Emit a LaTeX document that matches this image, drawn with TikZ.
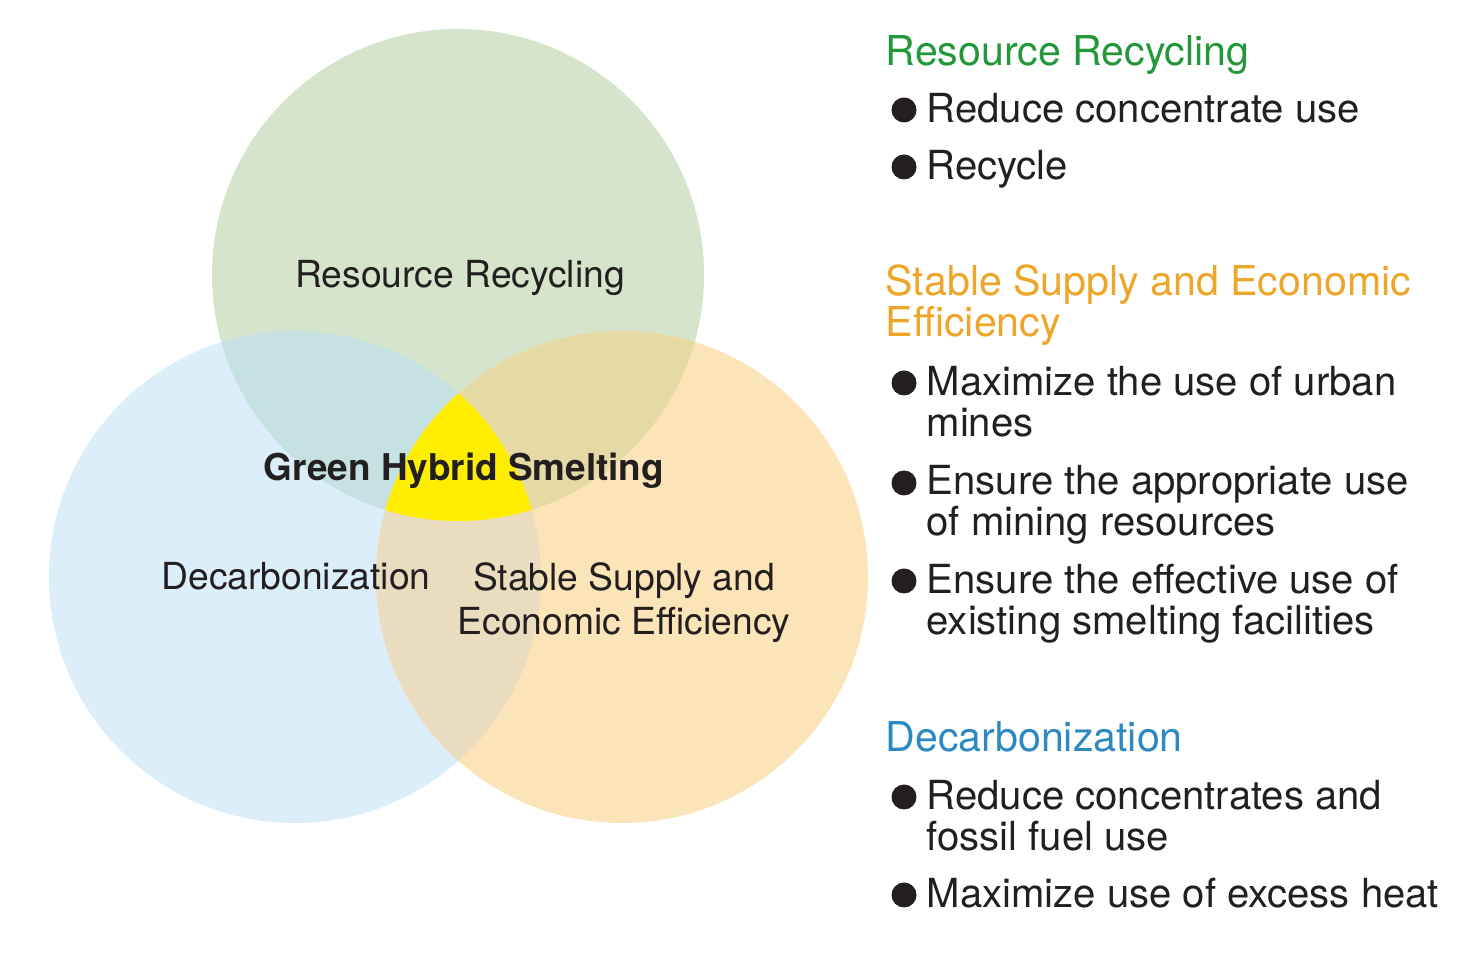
\documentclass[tikz,border=0pt]{standalone}
\usepackage{fontspec}
\setmainfont{TeX Gyre Heros}
\usepackage{tikz}
\usetikzlibrary{positioning}
\definecolor{rcfill}{RGB}{213,228,202}
\definecolor{dcfill}{RGB}{219,238,250}
\definecolor{scfill}{RGB}{251,228,184}
\definecolor{rcdcfill}{RGB}{197,225,225}
\definecolor{rcscfill}{RGB}{229,218,164}
\definecolor{dcscfill}{RGB}{234,221,191}
\definecolor{ghsfill}{RGB}{255,238,0}
\definecolor{inkdark}{RGB}{35,31,32}
\definecolor{rrgreen}{RGB}{35,152,58}
\definecolor{ssorange}{RGB}{238,166,42}
\definecolor{dcblue}{RGB}{45,138,192}
\tikzset{
  vennlabel/.style={ anchor=base, align=center, inner sep=0pt, text=inkdark, font=\fontsize{10.6}{12.8}\selectfont }
}
\tikzset{
  heading/.style={ anchor=base west, align=left, inner sep=0pt, font=\fontsize{11.7}{11.7}\selectfont }
}
\tikzset{
  item/.style={ anchor=base west, align=left, inner sep=0pt, text=inkdark, font=\fontsize{11.4}{11.7}\selectfont }
}
\tikzset{
  dot/.style={ circle, fill=inkdark, inner sep=0pt, minimum size=2.5mm }
}
\begin{document}
\begin{tikzpicture}[x=0.1mm, y=-0.1mm]
      \useasboundingbox (0,0) rectangle (1474,953);
      \coordinate (rc) at (458,275);
      \coordinate (dc) at (295,577);
      \coordinate (sc) at (622,577);
      \fill[rcfill] (rc) circle (24.6mm);
      \fill[dcfill] (dc) circle (24.6mm);
      \fill[scfill] (sc) circle (24.6mm);
      \begin{scope}
        \clip (rc) circle (24.6mm);
        \fill[rcdcfill] (dc) circle (24.6mm);
        \fill[rcscfill] (sc) circle (24.6mm);
      \end{scope}
      \begin{scope}
        \clip (dc) circle (24.6mm);
        \fill[dcscfill] (sc) circle (24.6mm);
        \clip (rc) circle (24.6mm);
        \fill[ghsfill] (sc) circle (24.6mm);
      \end{scope}
      \node[vennlabel] (rrlabel) at (460,288) {Resource Recycling};
      \node[vennlabel, font=\bfseries\fontsize{10.5}{12.8}\selectfont] (ghs) at (464,481) {Green Hybrid Smelting};
      \node[vennlabel] (dclabel) at (296,590) {Decarbonization};
      \node[vennlabel] (sslabel) at (624,635) {Stable Supply and\\Economic Efficiency};
      \node[heading, text=rrgreen] (rrhead) at (885,66) {Resource Recycling};
      \node[dot] (rr1dot) at (904,110) {};
      \node[item] (rr1) at (926,123) {Reduce concentrate use};
      \node[dot] (rr2dot) at (904,167) {};
      \node[item] (rr2) at (926,180) {Recycle};
      \node[heading, text=ssorange] (sshead) at (885,337) {Stable Supply and Economic\\Efficiency};
      \node[dot] (ss1dot) at (904,383) {};
      \node[item] (ss1) at (926,437) {Maximize the use of urban\\mines};
      \node[dot] (ss2dot) at (904,483) {};
      \node[item] (ss2) at (926,536) {Ensure the appropriate use\\of mining resources};
      \node[dot] (ss3dot) at (904,581) {};
      \node[item] (ss3) at (926,635) {Ensure the effective use of\\existing smelting facilities};
      \node[heading, text=dcblue] (dchead) at (885,752) {Decarbonization};
      \node[dot] (dc1dot) at (904,797) {};
      \node[item] (dc1) at (926,851) {Reduce concentrates and\\fossil fuel use};
      \node[dot] (dc2dot) at (904,895) {};
      \node[item] (dc2) at (926,908) {Maximize use of excess heat};
    \end{tikzpicture}
\end{document}
